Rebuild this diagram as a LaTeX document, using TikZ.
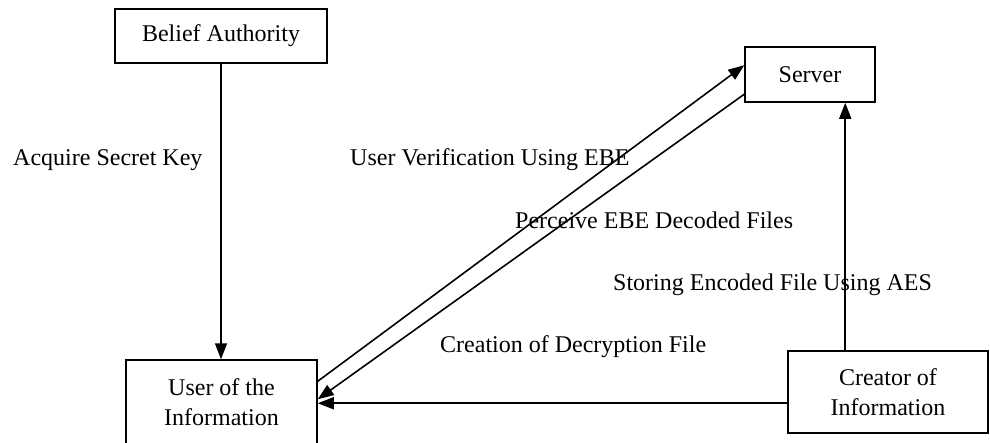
\documentclass[tikz,border=0pt]{standalone}
\usepackage{fontspec}
\setmainfont{Liberation Serif}
\usetikzlibrary{arrows.meta,calc}
\begin{document}
\begin{tikzpicture}[x=1pt,y=-1pt,
  box/.style={draw,line width=1.5pt,inner sep=0pt,align=center,font=\fontsize{24}{30}\selectfont},
  lbl/.style={inner sep=0pt,anchor=west,font=\fontsize{24}{30}\selectfont,text height=16pt,text depth=5pt},
  arr/.style={line width=1.6pt,-{Triangle[length=16pt,width=12pt]}},
  ln/.style={line width=1.6pt}]
\clip (0,0) rectangle (990,442);
\fill[white] (0,0) rectangle (990,442);
\node[box,minimum width=212pt,minimum height=54pt] (belief) at (221,36) {Belief Authority};
\node[box,minimum width=130pt,minimum height=55pt] (server) at (810,74.5) {Server};
\node[box,minimum width=191pt,minimum height=84pt] (user) at (221.5,402) {User of the\\Information};
\node[box,minimum width=200pt,minimum height=82pt] (creator) at (888,392) {Creator of\\Information};
% connectors
\draw[arr] (belief.south) -- (belief.south |- user.north);
\coordinate (u1) at ([yshift=-22pt]user.north east);
\coordinate (s1) at ([yshift=-19pt]server.north west);
\draw[arr] (u1) -- (s1);
\coordinate (s2) at ([yshift=-48pt]server.north west);
\coordinate (u2) at ([yshift=-40pt]user.north east);
\draw[arr] (s2) -- (u2);
\coordinate (c1) at ([yshift=-53pt]creator.north west);
\draw[arr] (c1) -- (c1 -| user.east);
\coordinate (c2) at ([xshift=58pt]creator.north west);
\draw[arr] (c2) -- (c2 |- server.south);
% labels
\node[lbl] (l1) at (13,160) {Acquire Secret Key};
\node[lbl] (l2) at (350,160) {User Verification Using EBE};
\node[lbl] (l3) at (515,223) {Perceive EBE Decoded Files};
\node[lbl] (l4) at (613,285) {Storing Encoded File Using AES};
\node[lbl] (l5) at (440,347) {Creation of Decryption File};
\end{tikzpicture}
\end{document}
